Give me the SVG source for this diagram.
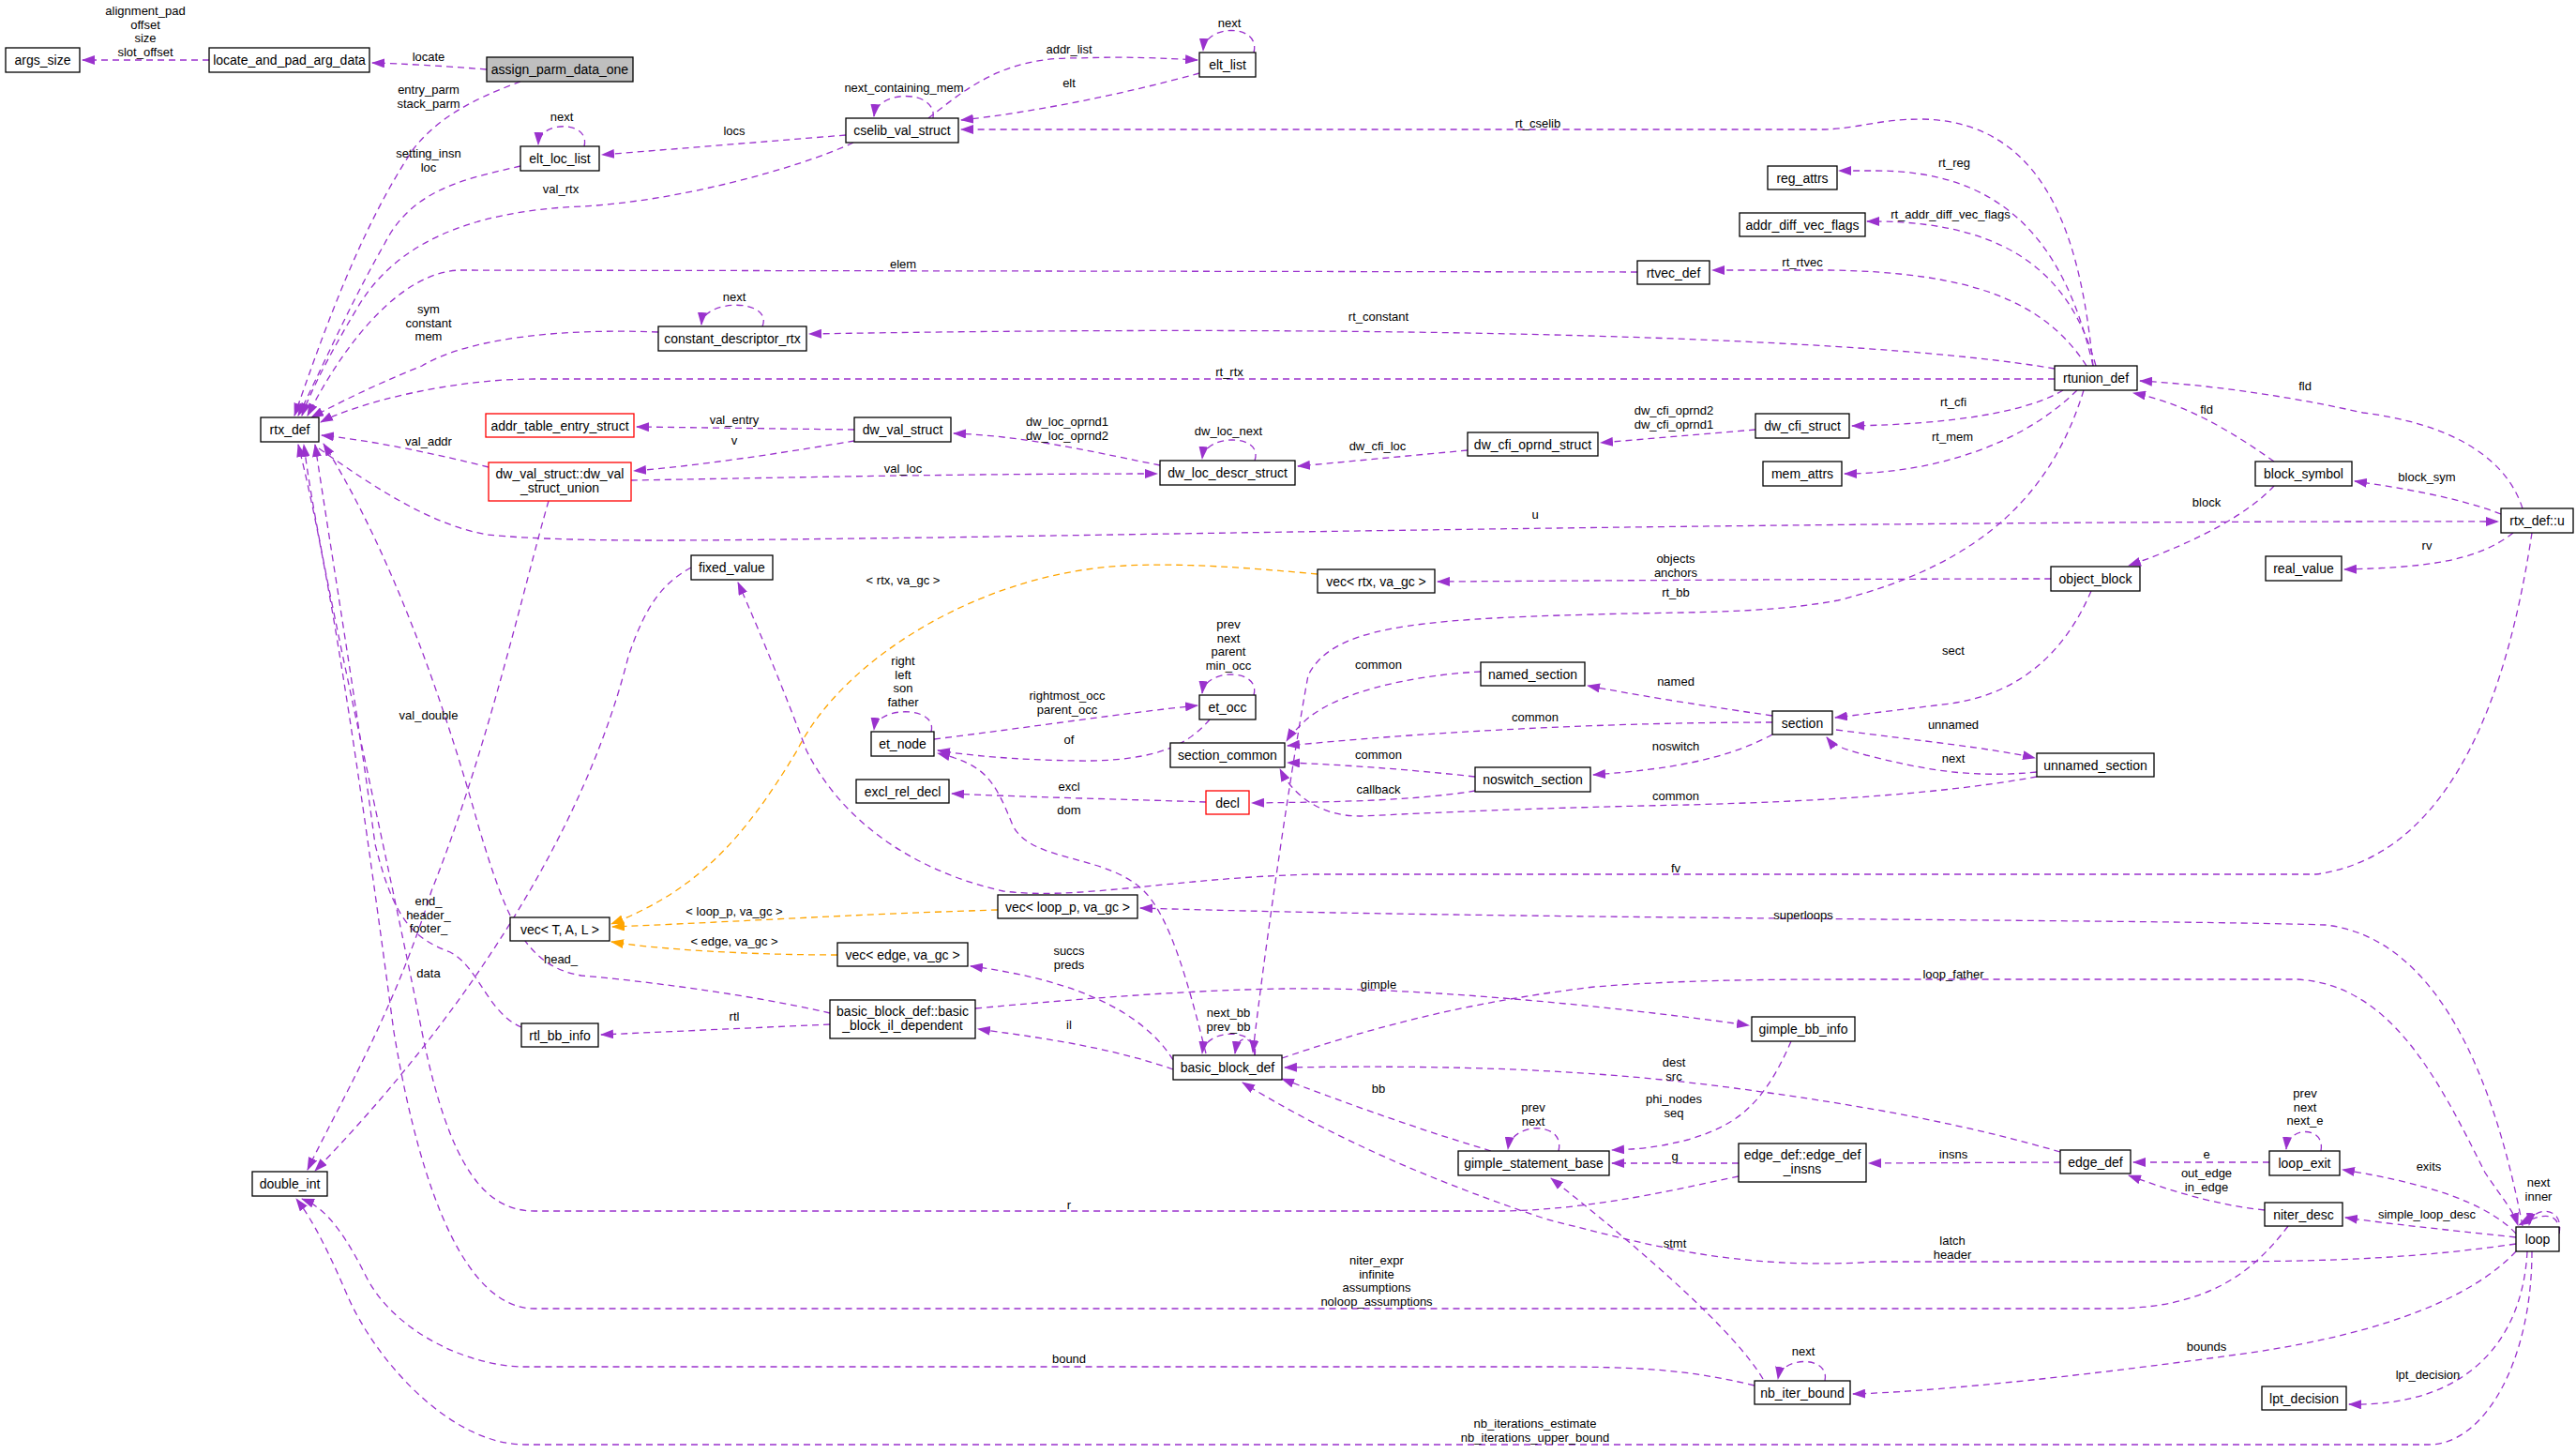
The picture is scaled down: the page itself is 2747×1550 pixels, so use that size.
<svg xmlns="http://www.w3.org/2000/svg" width="2747" height="1550" viewBox="0 0 2747 1550">
<style>
text{font-family:"Liberation Sans",Arial,sans-serif;fill:#000}
.n rect{fill:#fff;stroke:#000;stroke-width:1.3}
.n text{font-size:14px;text-anchor:middle}
.n.red rect{stroke:#f00}
.n.gray rect{fill:#bfbfbf}
.e path{fill:none;stroke:#9a32cd;stroke-width:1.3;stroke-dasharray:7,5;marker-end:url(#a)}
.e path.o{stroke:#ffa500;marker-end:url(#ao)}
.l{font-size:13px;text-anchor:middle}
</style>
<defs>
<marker id="a" markerUnits="userSpaceOnUse" markerWidth="14" markerHeight="10" refX="13" refY="5" orient="auto"><path d="M0,0 L14,5 L0,10 z" fill="#9a32cd"/></marker>
<marker id="ao" markerUnits="userSpaceOnUse" markerWidth="14" markerHeight="10" refX="13" refY="5" orient="auto"><path d="M0,0 L14,5 L0,10 z" fill="#ffa500"/></marker>
</defs>
<rect width="2747" height="1550" fill="#fff"/>
<g class="e" id="edges">
<path d="M223,64 L88,64"/>
<path d="M519,74 C470,70 430,68 397,67"/>
<path d="M555,87 C520,100 470,120 440,160 C380,250 340,370 314,443"/>
<path d="M555,177 C500,190 440,200 410,260 C370,330 340,400 318,443"/>
<path d="M623,156 C630,128 575,128 574,154"/>
<path d="M902,144 L642,165"/>
<path d="M910,152 C850,180 720,215 620,220 C500,225 420,260 380,330 C350,380 330,420 322,443"/>
<path d="M1279,78 C1200,100 1100,120 1025,128"/>
<path d="M990,126 C1030,95 1070,60 1150,62 C1200,60 1240,62 1277,64"/>
<path d="M995,126 C1000,95 935,95 932,124"/>
<path d="M1337,56 C1345,25 1285,25 1283,54"/>
<path d="M1746,290 L490,288 C430,290 370,360 328,443"/>
<path d="M702,354 C600,350 500,360 450,390 C400,410 360,430 332,445"/>
<path d="M813,348 C825,318 750,318 748,346"/>
<path d="M2191,404 L570,404 C480,404 380,430 342,450"/>
<path d="M2232,390 C2220,270 2190,130 2050,127 C2000,127 1980,138 1940,138 L1025,138"/>
<path d="M2232,390 C2200,250 2130,182 2000,182 L1961,182"/>
<path d="M2235,390 C2210,300 2150,237 2000,236 L1991,236"/>
<path d="M2225,390 C2180,320 2100,290 1950,288 L1826,288"/>
<path d="M2191,393 C2000,360 1500,345 863,356"/>
<path d="M2200,416 C2160,440 2080,452 1975,454"/>
<path d="M2215,416 C2150,480 2050,505 1967,505"/>
<path d="M2222,416 C2190,520 2120,600 1960,640 C1880,655 1790,652 1700,655 C1500,660 1420,670 1395,720 C1380,800 1350,1000 1336,1122"/>
<path d="M1872,458 L1707,472"/>
<path d="M1565,480 L1384,497"/>
<path d="M1237,496 C1180,485 1100,465 1017,462"/>
<path d="M1338,491 C1348,462 1285,462 1282,489"/>
<path d="M911,458 L679,455"/>
<path d="M911,470 C850,480 760,495 676,502"/>
<path d="M673,512 C800,510 1000,505 1234,505"/>
<path d="M521,498 C470,485 400,470 343,464"/>
<path d="M585,534 C560,620 520,800 460,950 C420,1080 360,1180 328,1247"/>
<path d="M737,605 C710,620 690,640 670,700 C620,900 480,1100 336,1248"/>
<path d="M340,478 C400,520 460,560 520,570 C620,580 800,575 1000,573 C1500,565 2100,555 2664,556"/>
<path d="M2425,492 C2380,460 2330,430 2275,419"/>
<path d="M2690,542 C2670,480 2600,450 2520,440 C2430,420 2350,410 2282,406"/>
<path d="M2667,548 C2620,530 2560,520 2511,513"/>
<path d="M2680,568 C2640,600 2580,605 2500,607"/>
<path d="M2425,518 C2400,545 2350,575 2270,603"/>
<path d="M2187,617 C2000,617 1700,619 1533,620"/>
<path class="o" d="M1405,612 C1330,605 1260,600 1200,603 C1050,610 900,700 850,800 C790,900 740,950 652,985"/>
<path d="M2230,630 C2200,700 2150,740 2080,750 L1957,765"/>
<path d="M1890,763 C1800,750 1740,740 1693,731"/>
<path d="M1579,716 C1500,720 1420,740 1390,770 C1380,780 1375,785 1372,790"/>
<path d="M1890,770 C1700,770 1500,782 1373,795"/>
<path d="M1958,778 C2050,790 2120,797 2170,808"/>
<path d="M2172,823 C2100,830 2050,820 1990,805 C1965,798 1955,795 1948,786"/>
<path d="M1890,783 C1840,810 1780,820 1699,826"/>
<path d="M1573,828 C1500,820 1430,815 1373,813"/>
<path d="M1573,843 C1500,855 1400,855 1335,856"/>
<path d="M2172,828 C2050,850 1900,855 1800,858 C1600,862 1500,868 1450,870 C1410,870 1380,850 1365,820"/>
<path d="M1286,855 C1200,852 1100,850 1015,846"/>
<path d="M996,788 C1100,775 1200,760 1277,752"/>
<path d="M1290,767 C1270,790 1240,812 1150,811 C1080,810 1030,805 1000,800"/>
<path d="M993,780 C1000,752 935,752 932,778"/>
<path d="M1337,741 C1345,712 1285,712 1282,739"/>
<path d="M1286,1123 C1270,1060 1250,980 1220,950 C1180,910 1100,920 1080,880 C1060,830 1050,815 1000,803"/>
<path d="M2700,568 C2680,700 2630,910 2470,932 L1400,932 C1250,936 1150,960 1070,950 C980,930 900,880 860,800 C830,720 800,650 787,621"/>
<path d="M2690,1307 C2660,1150 2600,1000 2480,986 C2300,980 1600,980 1216,968"/>
<path class="o" d="M1064,970 C900,975 800,982 653,988"/>
<path class="o" d="M893,1018 C800,1018 700,1012 652,1004"/>
<path d="M1251,1130 C1220,1080 1150,1045 1035,1030"/>
<path d="M885,1080 C800,1060 680,1045 620,1040 C560,1030 540,980 510,880 C460,700 400,560 345,473"/>
<path d="M556,1095 C520,1080 510,1030 480,1015 C440,1000 420,980 400,900 C380,750 355,600 336,474"/>
<path d="M885,1092 L641,1103"/>
<path d="M1040,1075 C1200,1060 1300,1055 1370,1054 C1500,1052 1700,1070 1865,1093"/>
<path d="M1251,1140 C1180,1115 1100,1105 1043,1097"/>
<path d="M1338,1125 C1345,1095 1285,1095 1282,1123"/>
<path d="M1338,1125 C1336,1102 1320,1102 1317,1123"/>
<path d="M1367,1128 C1450,1100 1550,1070 1700,1052 C1800,1044 1900,1044 2000,1044 L2450,1044 C2550,1050 2600,1150 2650,1250 C2670,1280 2680,1290 2685,1306"/>
<path d="M2683,1326 C2550,1345 2450,1345 2300,1345 L2000,1345 C1850,1355 1750,1325 1650,1300 C1500,1250 1400,1200 1325,1154"/>
<path d="M2197,1228 C2100,1200 2000,1180 1850,1160 C1700,1140 1550,1135 1370,1138"/>
<path d="M1590,1227 C1500,1200 1420,1170 1367,1150"/>
<path d="M1910,1110 C1880,1180 1850,1200 1800,1215 C1760,1225 1740,1225 1719,1226"/>
<path d="M1662,1227 C1670,1195 1612,1195 1608,1225"/>
<path d="M1854,1240 L1719,1240"/>
<path d="M2197,1239 L1993,1240"/>
<path d="M2420,1239 L2275,1239"/>
<path d="M2475,1227 C2480,1200 2440,1200 2438,1225"/>
<path d="M2415,1290 C2370,1285 2330,1275 2270,1253"/>
<path d="M2683,1315 C2650,1280 2580,1260 2498,1247"/>
<path d="M2683,1319 C2600,1310 2550,1305 2501,1298"/>
<path d="M2729,1315 C2735,1285 2700,1285 2697,1306"/>
<path d="M2729,1315 C2730,1292 2712,1292 2686,1306"/>
<path d="M1854,1254 C1800,1265 1700,1290 1600,1291 L570,1291 C520,1291 480,1250 450,1100 C400,850 340,600 324,474"/>
<path d="M2440,1307 C2400,1360 2350,1395 2250,1395 L570,1395 C500,1395 450,1280 420,1100 C380,800 350,600 318,474"/>
<path d="M1880,1470 C1850,1420 1760,1340 1654,1256"/>
<path d="M1946,1472 C1952,1445 1900,1445 1896,1470"/>
<path d="M2683,1334 C2640,1380 2550,1420 2400,1442 C2200,1470 2050,1484 1976,1486"/>
<path d="M1871,1477 C1800,1460 1750,1457 1650,1457 L560,1457 C500,1457 420,1420 390,1360 C360,1300 340,1285 322,1278"/>
<path d="M2695,1334 C2690,1430 2630,1500 2505,1497"/>
<path d="M2700,1334 C2700,1450 2650,1540 2590,1540 L560,1540 C480,1540 400,1450 370,1380 C340,1310 325,1290 316,1278"/>
</g>
<g id="labels">
<text class="l" x="155" y="16">alignment_pad<tspan x="155" dy="14.5">offset</tspan><tspan x="155" dy="14.5">size</tspan><tspan x="155" dy="14.5">slot_offset</tspan></text>
<text class="l" x="457" y="65">locate</text>
<text class="l" x="457" y="100">entry_parm<tspan x="457" dy="14.5">stack_parm</tspan></text>
<text class="l" x="457" y="168">setting_insn<tspan x="457" dy="14.5">loc</tspan></text>
<text class="l" x="599" y="129">next</text>
<text class="l" x="783" y="144">locs</text>
<text class="l" x="598" y="206">val_rtx</text>
<text class="l" x="1140" y="93">elt</text>
<text class="l" x="1140" y="57">addr_list</text>
<text class="l" x="964" y="98">next_containing_mem</text>
<text class="l" x="1311" y="29">next</text>
<text class="l" x="963" y="286">elem</text>
<text class="l" x="457" y="334">sym<tspan x="457" dy="14.5">constant</tspan><tspan x="457" dy="14.5">mem</tspan></text>
<text class="l" x="783" y="321">next</text>
<text class="l" x="1311" y="401">rt_rtx</text>
<text class="l" x="1640" y="136">rt_cselib</text>
<text class="l" x="2084" y="178">rt_reg</text>
<text class="l" x="2080" y="233">rt_addr_diff_vec_flags</text>
<text class="l" x="1922" y="284">rt_rtvec</text>
<text class="l" x="1470" y="342">rt_constant</text>
<text class="l" x="2083" y="433">rt_cfi</text>
<text class="l" x="2082" y="470">rt_mem</text>
<text class="l" x="1787" y="636">rt_bb</text>
<text class="l" x="1785" y="442">dw_cfi_oprnd2<tspan x="1785" dy="14.5">dw_cfi_oprnd1</tspan></text>
<text class="l" x="1469" y="480">dw_cfi_loc</text>
<text class="l" x="1138" y="454">dw_loc_oprnd1<tspan x="1138" dy="14.5">dw_loc_oprnd2</tspan></text>
<text class="l" x="1310" y="464">dw_loc_next</text>
<text class="l" x="783" y="452">val_entry</text>
<text class="l" x="783" y="474">v</text>
<text class="l" x="963" y="504">val_loc</text>
<text class="l" x="457" y="475">val_addr</text>
<text class="l" x="457" y="767">val_double</text>
<text class="l" x="457" y="1042">data</text>
<text class="l" x="1637" y="553">u</text>
<text class="l" x="2353" y="441">fld</text>
<text class="l" x="2458" y="416">fld</text>
<text class="l" x="2588" y="513">block_sym</text>
<text class="l" x="2588" y="586">rv</text>
<text class="l" x="2353" y="540">block</text>
<text class="l" x="1787" y="600">objects<tspan x="1787" dy="14.5">anchors</tspan></text>
<text class="l" x="963" y="623">&lt; rtx, va_gc &gt;</text>
<text class="l" x="2083" y="698">sect</text>
<text class="l" x="1787" y="731">named</text>
<text class="l" x="1470" y="713">common</text>
<text class="l" x="1637" y="769">common</text>
<text class="l" x="2083" y="777">unnamed</text>
<text class="l" x="2083" y="813">next</text>
<text class="l" x="1787" y="800">noswitch</text>
<text class="l" x="1470" y="809">common</text>
<text class="l" x="1470" y="846">callback</text>
<text class="l" x="1787" y="853">common</text>
<text class="l" x="1140" y="843">excl</text>
<text class="l" x="1138" y="746">rightmost_occ<tspan x="1138" dy="14.5">parent_occ</tspan></text>
<text class="l" x="1140" y="793">of</text>
<text class="l" x="963" y="709">right<tspan x="963" dy="14.5">left</tspan><tspan x="963" dy="14.5">son</tspan><tspan x="963" dy="14.5">father</tspan></text>
<text class="l" x="1310" y="670">prev<tspan x="1310" dy="14.5">next</tspan><tspan x="1310" dy="14.5">parent</tspan><tspan x="1310" dy="14.5">min_occ</tspan></text>
<text class="l" x="1140" y="868">dom</text>
<text class="l" x="1787" y="930">fv</text>
<text class="l" x="1923" y="980">superloops</text>
<text class="l" x="783" y="976">&lt; loop_p, va_gc &gt;</text>
<text class="l" x="783" y="1008">&lt; edge, va_gc &gt;</text>
<text class="l" x="1140" y="1018">succs<tspan x="1140" dy="14.5">preds</tspan></text>
<text class="l" x="457" y="965">end_<tspan x="457" dy="14.5">header_</tspan><tspan x="457" dy="14.5">footer_</tspan></text>
<text class="l" x="598" y="1027">head_</text>
<text class="l" x="783" y="1088">rtl</text>
<text class="l" x="1470" y="1054">gimple</text>
<text class="l" x="1140" y="1097">il</text>
<text class="l" x="1310" y="1084">next_bb<tspan x="1310" dy="14.5">prev_bb</tspan></text>
<text class="l" x="2083" y="1043">loop_father</text>
<text class="l" x="2082" y="1327">latch<tspan x="2082" dy="14.5">header</tspan></text>
<text class="l" x="1785" y="1137">dest<tspan x="1785" dy="14.5">src</tspan></text>
<text class="l" x="1470" y="1165">bb</text>
<text class="l" x="1785" y="1176">phi_nodes<tspan x="1785" dy="14.5">seq</tspan></text>
<text class="l" x="1635" y="1185">prev<tspan x="1635" dy="14.5">next</tspan></text>
<text class="l" x="1786" y="1237">g</text>
<text class="l" x="2083" y="1235">insns</text>
<text class="l" x="2353" y="1235">e</text>
<text class="l" x="2458" y="1170">prev<tspan x="2458" dy="14.5">next</tspan><tspan x="2458" dy="14.5">next_e</tspan></text>
<text class="l" x="2353" y="1255">out_edge<tspan x="2353" dy="14.5">in_edge</tspan></text>
<text class="l" x="2590" y="1248">exits</text>
<text class="l" x="2588" y="1299">simple_loop_desc</text>
<text class="l" x="2707" y="1265">next<tspan x="2707" dy="14.5">inner</tspan></text>
<text class="l" x="1140" y="1289">r</text>
<text class="l" x="1468" y="1348">niter_expr<tspan x="1468" dy="14.5">infinite</tspan><tspan x="1468" dy="14.5">assumptions</tspan><tspan x="1468" dy="14.5">noloop_assumptions</tspan></text>
<text class="l" x="1786" y="1330">stmt</text>
<text class="l" x="1923" y="1445">next</text>
<text class="l" x="2353" y="1440">bounds</text>
<text class="l" x="1140" y="1453">bound</text>
<text class="l" x="2589" y="1470">lpt_decision</text>
<text class="l" x="1637" y="1522">nb_iterations_estimate<tspan x="1637" dy="14.5">nb_iterations_upper_bound</tspan></text>
</g>
<g id="args_size" class="n"><rect x="6" y="51" width="79" height="26"/><text x="45.5" y="69">args_size</text></g>
<g id="locate_and_pad_arg_data" class="n"><rect x="223" y="51" width="171" height="26"/><text x="308.5" y="69">locate_and_pad_arg_data</text></g>
<g id="assign_parm_data_one" class="n gray"><rect x="519" y="61" width="156" height="26"/><text x="597" y="79">assign_parm_data_one</text></g>
<g id="elt_list" class="n"><rect x="1279" y="56" width="60" height="26"/><text x="1309" y="74">elt_list</text></g>
<g id="cselib_val_struct" class="n"><rect x="902" y="126" width="120" height="26"/><text x="962" y="144">cselib_val_struct</text></g>
<g id="elt_loc_list" class="n"><rect x="555" y="156" width="84" height="26"/><text x="597" y="174">elt_loc_list</text></g>
<g id="constant_descriptor_rtx" class="n"><rect x="702" y="348" width="158" height="26"/><text x="781" y="366">constant_descriptor_rtx</text></g>
<g id="rtx_def" class="n"><rect x="278" y="445" width="62" height="26"/><text x="309" y="463">rtx_def</text></g>
<g id="addr_table_entry_struct" class="n red"><rect x="518" y="441" width="158" height="25"/><text x="597" y="459">addr_table_entry_struct</text></g>
<g id="dw_val_struct" class="n"><rect x="911" y="445" width="103" height="26"/><text x="962.5" y="463">dw_val_struct</text></g>
<g id="dw_val_struct_union" class="n red"><rect x="521" y="493" width="152" height="41"/><text x="597" y="510">dw_val_struct::dw_val<tspan x="597" dy="15">_struct_union</tspan></text></g>
<g id="dw_loc_descr_struct" class="n"><rect x="1237" y="491" width="144" height="26"/><text x="1309" y="509">dw_loc_descr_struct</text></g>
<g id="fixed_value" class="n"><rect x="737" y="592" width="87" height="26"/><text x="780.5" y="610">fixed_value</text></g>
<g id="et_node" class="n"><rect x="929" y="780" width="67" height="26"/><text x="962.5" y="798">et_node</text></g>
<g id="et_occ" class="n"><rect x="1279" y="741" width="60" height="26"/><text x="1309" y="759">et_occ</text></g>
<g id="section_common" class="n"><rect x="1248" y="792" width="122" height="26"/><text x="1309" y="810">section_common</text></g>
<g id="excl_rel_decl" class="n"><rect x="913" y="831" width="99" height="25"/><text x="962.5" y="849">excl_rel_decl</text></g>
<g id="decl" class="n red"><rect x="1286" y="843" width="46" height="25"/><text x="1309" y="861">decl</text></g>
<g id="vec_loop_p" class="n"><rect x="1064" y="954" width="149" height="25"/><text x="1138.5" y="972">vec&lt; loop_p, va_gc &gt;</text></g>
<g id="vec_T_A_L" class="n"><rect x="544" y="978" width="106" height="25"/><text x="597" y="996">vec&lt; T, A, L &gt;</text></g>
<g id="vec_edge" class="n"><rect x="893" y="1005" width="139" height="25"/><text x="962.5" y="1023">vec&lt; edge, va_gc &gt;</text></g>
<g id="basic_block_il_dependent" class="n"><rect x="885" y="1066" width="155" height="41"/><text x="962.5" y="1083">basic_block_def::basic<tspan x="962.5" dy="15">_block_il_dependent</tspan></text></g>
<g id="rtl_bb_info" class="n"><rect x="556" y="1091" width="82" height="25"/><text x="597" y="1109">rtl_bb_info</text></g>
<g id="basic_block_def" class="n"><rect x="1251" y="1125" width="116" height="26"/><text x="1309" y="1143">basic_block_def</text></g>
<g id="double_int" class="n"><rect x="269" y="1249" width="80" height="26"/><text x="309" y="1267">double_int</text></g>
<g id="reg_attrs" class="n"><rect x="1885" y="177" width="74" height="25"/><text x="1922" y="195">reg_attrs</text></g>
<g id="addr_diff_vec_flags" class="n"><rect x="1855" y="227" width="134" height="25"/><text x="1922" y="245">addr_diff_vec_flags</text></g>
<g id="rtvec_def" class="n"><rect x="1746" y="278" width="77" height="25"/><text x="1784.5" y="296">rtvec_def</text></g>
<g id="rtunion_def" class="n"><rect x="2191" y="390" width="88" height="26"/><text x="2235" y="408">rtunion_def</text></g>
<g id="dw_cfi_struct" class="n"><rect x="1872" y="441" width="100" height="26"/><text x="1922" y="459">dw_cfi_struct</text></g>
<g id="dw_cfi_oprnd_struct" class="n"><rect x="1565" y="461" width="139" height="25"/><text x="1634.5" y="479">dw_cfi_oprnd_struct</text></g>
<g id="mem_attrs" class="n"><rect x="1880" y="492" width="84" height="26"/><text x="1922" y="510">mem_attrs</text></g>
<g id="block_symbol" class="n"><rect x="2405" y="492" width="103" height="26"/><text x="2456.5" y="510">block_symbol</text></g>
<g id="rtx_def_u" class="n"><rect x="2667" y="542" width="77" height="26"/><text x="2705.5" y="560">rtx_def::u</text></g>
<g id="real_value" class="n"><rect x="2416" y="593" width="81" height="26"/><text x="2456.5" y="611">real_value</text></g>
<g id="vec_rtx" class="n"><rect x="1405" y="607" width="125" height="25"/><text x="1467.5" y="625">vec&lt; rtx, va_gc &gt;</text></g>
<g id="object_block" class="n"><rect x="2187" y="604" width="95" height="26"/><text x="2234.5" y="622">object_block</text></g>
<g id="named_section" class="n"><rect x="1579" y="706" width="111" height="25"/><text x="1634.5" y="724">named_section</text></g>
<g id="section" class="n"><rect x="1890" y="758" width="64" height="25"/><text x="1922" y="776">section</text></g>
<g id="noswitch_section" class="n"><rect x="1573" y="818" width="123" height="26"/><text x="1634.5" y="836">noswitch_section</text></g>
<g id="unnamed_section" class="n"><rect x="2172" y="803" width="125" height="25"/><text x="2234.5" y="821">unnamed_section</text></g>
<g id="gimple_bb_info" class="n"><rect x="1868" y="1084" width="110" height="26"/><text x="1923" y="1102">gimple_bb_info</text></g>
<g id="gimple_statement_base" class="n"><rect x="1555" y="1227" width="161" height="26"/><text x="1635.5" y="1245">gimple_statement_base</text></g>
<g id="edge_def_insns" class="n"><rect x="1854" y="1219" width="136" height="41"/><text x="1922" y="1236">edge_def::edge_def<tspan x="1922" dy="15">_insns</tspan></text></g>
<g id="edge_def" class="n"><rect x="2197" y="1226" width="75" height="25"/><text x="2234.5" y="1244">edge_def</text></g>
<g id="loop_exit" class="n"><rect x="2420" y="1227" width="75" height="26"/><text x="2457.5" y="1245">loop_exit</text></g>
<g id="niter_desc" class="n"><rect x="2415" y="1282" width="83" height="25"/><text x="2456.5" y="1300">niter_desc</text></g>
<g id="loop" class="n"><rect x="2683" y="1308" width="46" height="26"/><text x="2706" y="1326">loop</text></g>
<g id="nb_iter_bound" class="n"><rect x="1871" y="1472" width="102" height="25"/><text x="1922" y="1490">nb_iter_bound</text></g>
<g id="lpt_decision" class="n"><rect x="2412" y="1478" width="90" height="25"/><text x="2457" y="1496">lpt_decision</text></g>
</svg>
